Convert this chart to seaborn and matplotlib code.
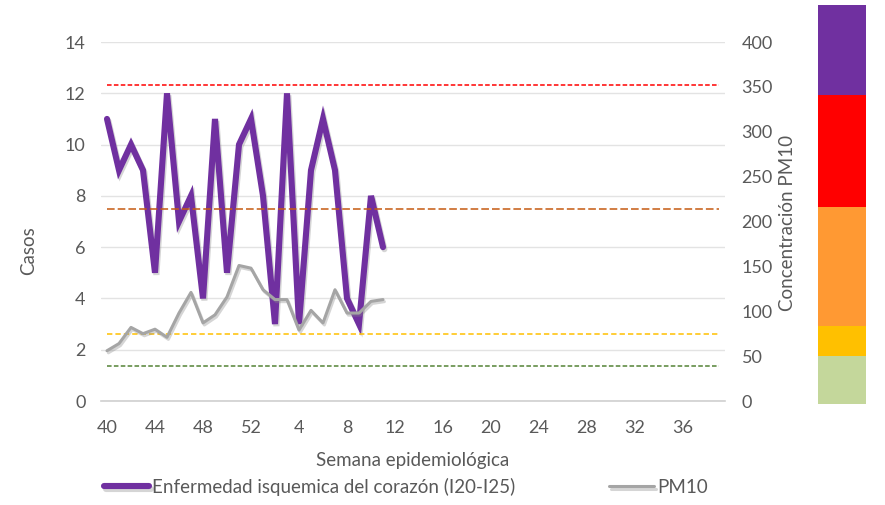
import matplotlib
matplotlib.use("Agg")
import numpy as np
import pandas as pd
import matplotlib.pyplot as plt
import matplotlib.patheffects as pe
import seaborn as sns

# ---------------------------------------------------------------------------
# Datos
# ---------------------------------------------------------------------------
semanas = list(range(40, 53)) + list(range(1, 40))      # eje completo (52 semanas)
semanas_datos = list(range(40, 53)) + list(range(1, 12))
casos = [11, 9, 10, 9, 5, 12, 7, 8, 4, 11, 5, 10, 11,
         8, 3, 12, 3, 9, 11, 9, 4, 3, 8, 6]
pm10 = [56, 64, 82, 75, 80, 71, 98, 121, 87, 96, 116, 151, 148,
        124, 113, 113, 79, 101, 87, 124, 98, 98, 111, 113]

# umbrales PM10 (eje secundario)
umbrales = [39, 75, 214, 352]
umbral_colores = ["#548235", "#FFC000", "#C55A11", "#FF0000"]
umbral_dashes = [(3, 1.5), (3.5, 2), (5, 2), (3, 1.5)]

# barra de colores a la derecha (de abajo hacia arriba)
bandas = [48, 30, 119, 113, 90]
banda_colores = ["#C4D79B", "#FFC000", "#FF9933", "#FF0000", "#7030A0"]

yticks_casos = list(range(0, 15, 2))
yticks_pm10 = list(range(0, 401, 50))
xtick_pos = list(range(0, len(semanas), 4))
xtick_labels = [str(semanas[i]) for i in xtick_pos]

TEXT = "#595959"
FS_TICK = 13
FS = 13.5

sns.set_theme(style="white")
plt.rcParams["font.family"] = ["Lato", "DejaVu Sans"]

df = pd.DataFrame({
    "pos": [semanas.index(w) for w in semanas_datos],
    "casos": casos,
    "pm10": pm10,
})

fig = plt.figure(figsize=(8.85, 5.05), dpi=100)
ax = fig.add_axes([101 / 885, 1 - 401 / 505, 624 / 885, 359 / 505])
ax2 = ax.twinx()

sombra = [pe.SimpleLineShadow(offset=(1, -1.5), shadow_color="#888888", alpha=0.35),
          pe.Normal()]

sns.lineplot(data=df, x="pos", y="casos", ax=ax, color="#7030A0", lw=4.4,
             label="Enfermedad isquemica del corazón (I20-I25)", legend=False,
             path_effects=sombra, solid_joinstyle="miter", solid_capstyle="round")
sns.lineplot(data=df, x="pos", y="pm10", ax=ax2, color="#A5A5A5", lw=2.2,
             label="PM10", legend=False, path_effects=sombra)

for u, c, d in zip(umbrales, umbral_colores, umbral_dashes):
    ax2.plot([0, len(semanas) - 1], [u, u], color=c, lw=1.1, dashes=d, zorder=1)

ax.set_xlim(-0.5, len(semanas) - 0.5)
ax.set_ylim(0, 14)
ax2.set_ylim(0, 400)
ax.set_yticks(yticks_casos)
ax2.set_yticks(yticks_pm10)
ax.set_xticks(xtick_pos)
ax.set_xticklabels(xtick_labels)

ax.yaxis.grid(True, color="#E3E3E3", lw=1.0)
ax.set_axisbelow(True)
for a in (ax, ax2):
    for s in a.spines.values():
        s.set_visible(False)
    a.tick_params(length=0, labelsize=FS_TICK, labelcolor=TEXT)
ax.spines["bottom"].set_visible(True)
ax.spines["bottom"].set_color("#D0D0D0")
ax.spines["bottom"].set_linewidth(1.2)
ax.tick_params(axis="y", pad=11)
ax.tick_params(axis="x", pad=14)
ax2.tick_params(axis="y", pad=12)

ax.set_xlabel("Semana epidemiológica", fontsize=FS, color=TEXT)
ax.xaxis.set_label_coords(0.5, -0.143)
ax.set_ylabel("Casos", fontsize=FS, color=TEXT)
ax.yaxis.set_label_coords((37 - 101) / 624, (401 - 251) / 359)
ax2.set_ylabel("Concentración PM10", fontsize=FS, color=TEXT)
ax2.yaxis.set_label_coords((779 - 101) / 624, (401 - 223) / 359)

h1, l1 = ax.get_legend_handles_labels()
h2, l2 = ax2.get_legend_handles_labels()
fig.legend(h1 + h2, l1 + l2, loc="center", bbox_to_anchor=(406 / 885, 1 - 487 / 505),
           ncol=2, frameon=False, fontsize=FS, labelcolor=TEXT,
           handlelength=2.4, handletextpad=0.15, columnspacing=5.0)

# barra de niveles
axb = fig.add_axes([818 / 885, 1 - 404 / 505, 48 / 885, 399 / 505])
base = np.concatenate([[0], np.cumsum(bandas)[:-1]])
axb.bar([0] * len(bandas), bandas, bottom=base, width=1, color=banda_colores,
        edgecolor="none")
axb.set_xlim(-0.5, 0.5)
axb.set_ylim(0, sum(bandas))
axb.axis("off")

fig.savefig("out.png", dpi=100)
